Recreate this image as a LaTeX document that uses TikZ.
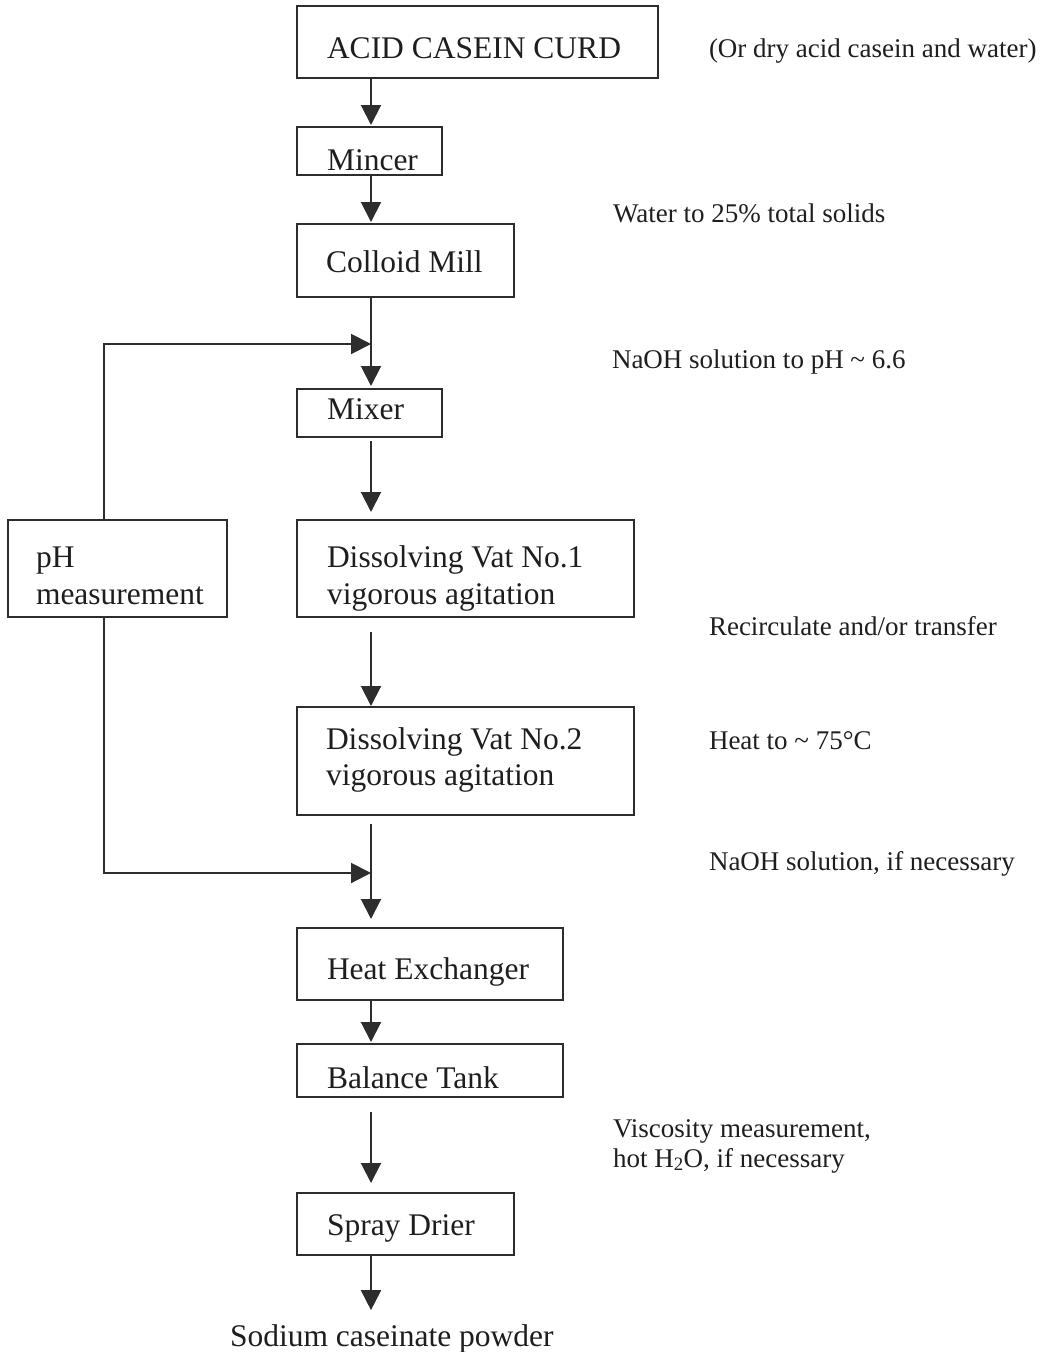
\documentclass[tikz,border=0pt]{standalone}
\usepackage{fontspec}
\setmainfont{Liberation Serif}
\usetikzlibrary{arrows.meta}
\definecolor{linec}{RGB}{45,45,45}
\definecolor{txtc}{RGB}{30,30,30}
\begin{document}
\begin{tikzpicture}[x=1pt,y=-1pt,
  box/.style={draw=linec, line width=2pt, inner sep=0pt, outer sep=0pt, rectangle},
  btxt/.style={anchor=base west, inner sep=0pt, outer sep=0pt, text=txtc, font=\fontsize{31.5}{37}\selectfont},
  stxt/.style={anchor=base west, inner sep=0pt, outer sep=0pt, text=txtc, font=\fontsize{27}{30}\selectfont},
  arr/.style={draw=linec, line width=2pt, -{Triangle[width=20pt,length=20pt]}},
  ln/.style={draw=linec, line width=2pt}]
\useasboundingbox (0,0) rectangle (1043,1352);

% boxes
\node[box, minimum width=361pt, minimum height=72pt] (acid) at (477.5,42) {};
\node[box, minimum width=145pt, minimum height=48pt] (mincer) at (369.5,151) {};
\node[box, minimum width=217pt, minimum height=73pt] (colloid) at (405.5,260.5) {};
\node[box, minimum width=145pt, minimum height=48pt] (mixer) at (369.5,413) {};
\node[box, minimum width=219pt, minimum height=97pt] (ph) at (117.5,568.5) {};
\node[box, minimum width=337pt, minimum height=97pt] (vat1) at (465.5,568.5) {};
\node[box, minimum width=337pt, minimum height=108pt] (vat2) at (465.5,761) {};
\node[box, minimum width=266pt, minimum height=72pt] (hx) at (430,964) {};
\node[box, minimum width=266pt, minimum height=53pt] (bt) at (430,1070.5) {};
\node[box, minimum width=217pt, minimum height=62pt] (sd) at (405.5,1224) {};

% box texts
\node[btxt] (acidT) at (327,58) {ACID CASEIN CURD};
\node[btxt] (mincerT) at (327,170) {Mincer};
\node[btxt] (colloidT) at (326,272) {Colloid Mill};
\node[btxt] (mixerT) at (327,419) {Mixer};
\node[btxt] (phT1) at (36,567) {pH};
\node[btxt] (phT2) at (36,604) {measurement};
\node[btxt] (v1a) at (327,567) {Dissolving Vat No.1};
\node[btxt] (v1b) at (327,604) {vigorous agitation};
\node[btxt] (v2a) at (326,749) {Dissolving Vat No.2};
\node[btxt] (v2b) at (326,785) {vigorous agitation};
\node[btxt] (hxT) at (327,979) {Heat Exchanger};
\node[btxt] (btT) at (327,1088) {Balance Tank};
\node[btxt] (sdT) at (327,1235) {Spray Drier};
\node[btxt, font=\fontsize{31.5}{37}\selectfont] (prod) at (230,1346) {Sodium caseinate powder};

% side notes
\node[stxt] (n1) at (709,57) {(Or dry acid casein and water)};
\node[stxt] (n2) at (613,222) {Water to 25\% total solids};
\node[stxt] (n3) at (612,368) {NaOH solution to pH \textasciitilde{} 6.6};
\node[stxt] (n4) at (709,635) {Recirculate and/or transfer};
\node[stxt] (n5) at (709,749) {Heat to \textasciitilde{} 75°C};
\node[stxt] (n6) at (709,870) {NaOH solution, if necessary};
\node[stxt] (n7) at (613,1137) {Viscosity measurement,};
\node[stxt] (n8) at (613,1167) {hot H\textsubscript{2}O, if necessary};

% coordinates
\coordinate (mx) at (371,0);
\coordinate (fx) at (104,0);
\coordinate (j1) at (371,344);
\coordinate (j2) at (371,873);

% connectors
\draw[arr, shorten >=2pt] (acid.south -| mx) -- (mincer.north -| mx);
\draw[arr, shorten >=2pt] (mincer.south -| mx) -- (colloid.north -| mx);
\draw[ln] (colloid.south -| mx) -- (j1);
\draw[arr, shorten >=3pt] (j1) -- (mixer.north -| mx);
\draw[arr] (ph.north -| fx) |- (j1);
\draw[arr, shorten <=4pt, shorten >=8pt] (mixer.south -| mx) -- (vat1.north -| mx);
\draw[arr, shorten <=15pt, shorten >=1pt] (vat1.south -| mx) -- (vat2.north -| mx);
\draw[ln, shorten <=9pt] (vat2.south -| mx) -- (j2);
\draw[arr, shorten >=9pt] (j2) -- (hx.north -| mx);
\draw[arr] (ph.south -| fx) |- (j2);
\draw[arr, shorten >=2pt] (hx.south -| mx) -- (bt.north -| mx);
\draw[arr, shorten <=15pt, shorten >=10pt] (bt.south -| mx) -- (sd.north -| mx);
\draw[arr, shorten >=14pt] (sd.south -| mx) -- (prod.north -| mx);
\end{tikzpicture}
\end{document}
